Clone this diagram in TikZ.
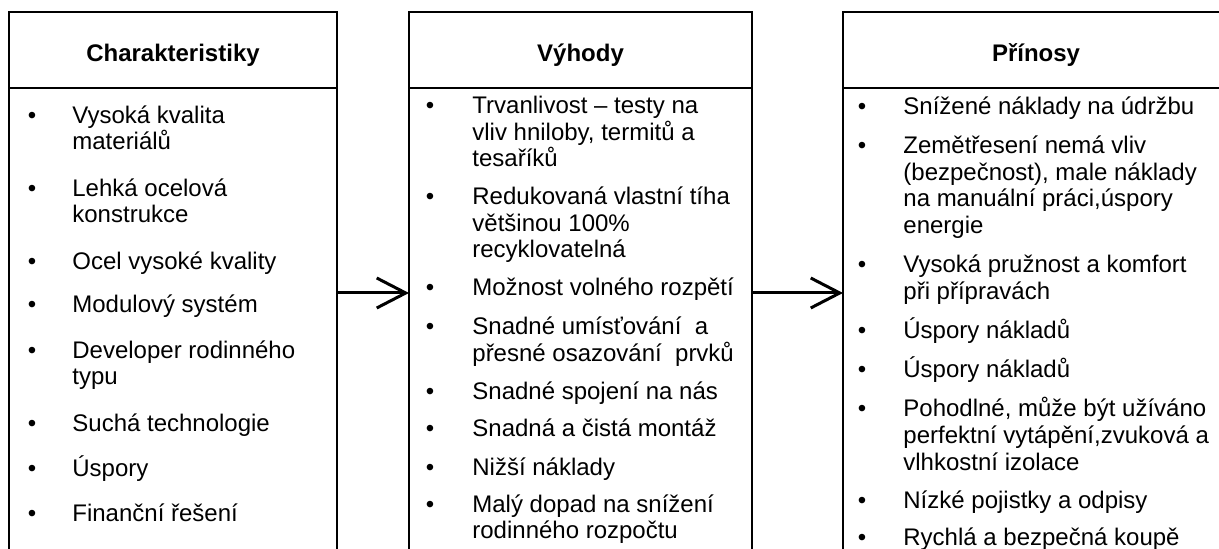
\documentclass[tikz,border=0pt]{standalone}
\usepackage{fontspec}
\setmainfont{Liberation Sans}
\usetikzlibrary{arrows.meta}
\newcommand\itembox[1]{\parbox[t]{200pt}{\raggedright #1}}
\begin{document}
\begin{tikzpicture}[x=0.5pt,y=-0.5pt,
  colbox/.style={draw, line width=1pt, inner sep=0pt, outer sep=0pt, minimum height=281pt},
  head/.style={font=\bfseries\fontsize{12}{14}\selectfont, anchor=base, inner sep=0pt},
  txtL/.style={font=\fontsize{12}{13}\selectfont, anchor=base west, inner sep=0pt},
  txt/.style={font=\fontsize{12}{13.25}\selectfont, anchor=base west, inner sep=0pt},
  blt/.style={font=\fontsize{12}{14}\selectfont, anchor=base, inner sep=0pt},
  hline/.style={line width=1pt},
  arr/.style={line width=1.5pt, -{Straight Barb[length=14.5pt,width=15pt]}}]
\useasboundingbox (0,0) rectangle (1219,549);
\clip (0,0) rectangle (1219,549);
% columns
\node[colbox, minimum width=164pt] (colL) at (173,293) {};
\node[colbox, minimum width=171.5pt] (colM) at (580.5,293) {};
\node[colbox, minimum width=193pt] (colR) at (1036,293) {};
\coordinate (hy) at (0,88);
\draw[hline] (colL.west |- hy) -- (colL.east |- hy);
\draw[hline] (colM.west |- hy) -- (colM.east |- hy);
\draw[hline] (colR.west |- hy) -- (colR.east |- hy);
% headers
\node[head] (hL) at (173,62) {Charakteristiky};
\node[head] (hM) at (580.5,62) {Výhody};
\node[head] (hR) at (1036,62) {Přínosy};
% arrows
\draw[arr] (colL.east) -- (colM.west);
\draw[arr] (colM.east) -- (colR.west);
% left column
\node[blt] (bL1) at (32,124) {•};
\node[txtL] (tL1) at (72,124) {\itembox{Vysoká kvalita\\materiálů}};
\node[blt] (bL2) at (32,197) {•};
\node[txtL] (tL2) at (72,197) {\itembox{Lehká ocelová\\konstrukce}};
\node[blt] (bL3) at (32,270) {•};
\node[txtL] (tL3) at (72,270) {\itembox{Ocel vysoké kvality}};
\node[blt] (bL4) at (32,313) {•};
\node[txtL] (tL4) at (72,313) {\itembox{Modulový systém}};
\node[blt] (bL5) at (32,359) {•};
\node[txtL] (tL5) at (72,359) {\itembox{Developer rodinného\\typu}};
\node[blt] (bL6) at (32,431) {•};
\node[txtL] (tL6) at (72,431) {\itembox{Suchá technologie}};
\node[blt] (bL7) at (32,476) {•};
\node[txtL] (tL7) at (72,476) {\itembox{Úspory}};
\node[blt] (bL8) at (32,521) {•};
\node[txtL] (tL8) at (72,521) {\itembox{Finanční řešení}};
% middle column
\node[blt] (bM1) at (430,114) {•};
\node[txt] (tM1) at (472,114) {\itembox{Trvanlivost – testy na\\vliv hniloby, termitů a\\tesaříků}};
\node[blt] (bM2) at (430,205) {•};
\node[txt] (tM2) at (472,205) {\itembox{Redukovaná vlastní tíha\\většinou 100\%\\recyklovatelná}};
\node[blt] (bM3) at (430,296) {•};
\node[txt] (tM3) at (472,296) {\itembox{Možnost volného rozpětí}};
\node[blt] (bM4) at (430,335) {•};
\node[txt] (tM4) at (472,335) {\itembox{Snadné umísťování\ \ a\\přesné osazování\ \ prvků}};
\node[blt] (bM5) at (430,400) {•};
\node[txt] (tM5) at (472,400) {\itembox{Snadné spojení na nás}};
\node[blt] (bM6) at (430,437) {•};
\node[txt] (tM6) at (472,437) {\itembox{Snadná a čistá montáž}};
\node[blt] (bM7) at (430,475) {•};
\node[txt] (tM7) at (472,475) {\itembox{Nižší náklady}};
\node[blt] (bM8) at (430,512) {•};
\node[txt] (tM8) at (472,512) {\itembox{Malý dopad na snížení\\rodinného rozpočtu}};
% right column
\node[blt] (bR1) at (862,115) {•};
\node[txt] (tR1) at (903,115) {\itembox{Snížené náklady na údržbu}};
\node[blt] (bR2) at (862,154) {•};
\node[txt] (tR2) at (903,154) {\itembox{Zemětřesení nemá vliv\\(bezpečnost), male náklady\\na manuální práci,úspory\\energie}};
\node[blt] (bR3) at (862,273) {•};
\node[txt] (tR3) at (903,273) {\itembox{Vysoká pružnost a komfort\\při přípravách}};
\node[blt] (bR4) at (862,339) {•};
\node[txt] (tR4) at (903,339) {\itembox{Úspory nákladů}};
\node[blt] (bR5) at (862,378) {•};
\node[txt] (tR5) at (903,378) {\itembox{Úspory nákladů}};
\node[blt] (bR6) at (862,417) {•};
\node[txt] (tR6) at (903,417) {\itembox{Pohodlné, může být užíváno\\perfektní vytápění,zvuková a\\vlhkostní izolace}};
\node[blt] (bR7) at (862,508) {•};
\node[txt] (tR7) at (903,508) {\itembox{Nízké pojistky a odpisy}};
\node[blt] (bR8) at (862,545) {•};
\node[txt] (tR8) at (903,545) {\itembox{Rychlá a bezpečná koupě}};
\end{tikzpicture}
\end{document}
